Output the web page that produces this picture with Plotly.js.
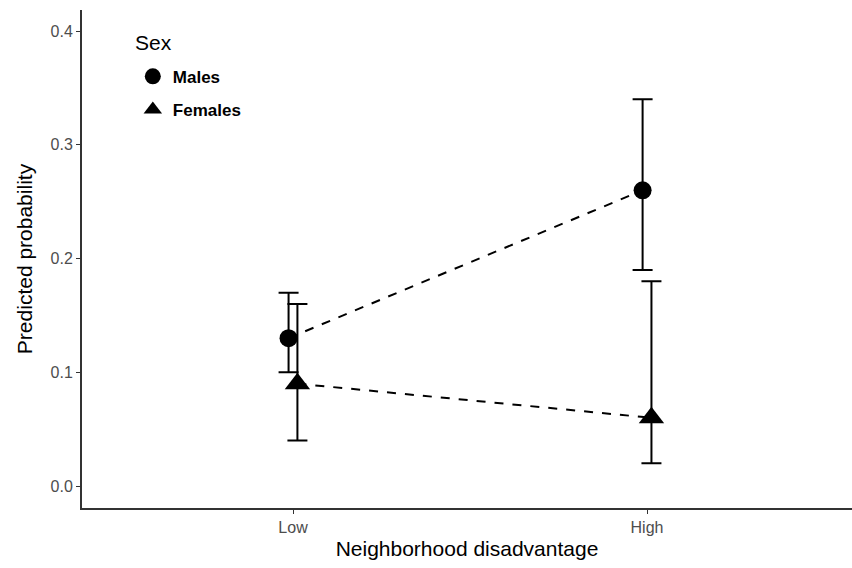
<!DOCTYPE html>
<html>
<head>
<meta charset="utf-8">
<script src="https://cdn.plot.ly/plotly-3.0.1.min.js"></script>
<style>html,body{margin:0;padding:0;background:#fff;}#chart{width:852px;height:568px;}</style>
</head>
<body>
<div id="chart"></div>
<script>
var categories = ["Low", "High"];
var categoryPos = [1, 2];
var dodge = 0.0125;
var malesProb = [0.13, 0.26];
var malesLower = [0.10, 0.19];
var malesUpper = [0.17, 0.34];
var femalesProb = [0.09, 0.06];
var femalesLower = [0.04, 0.02];
var femalesUpper = [0.16, 0.18];

function lineTrace(pos, prob, off) {
  return {
    type: 'scatter', mode: 'lines', showlegend: false, hoverinfo: 'skip',
    x: pos.map(function (p) { return p + off; }),
    y: prob,
    line: { color: '#000', width: 2, dash: 'dash' }
  };
}
function pointTrace(name, pos, prob, lo, hi, symbol, size, off, group) {
  return {
    type: 'scatter', mode: 'markers', name: name, legendgroup: group,
    x: pos.map(function (p) { return p + off; }),
    y: prob,
    marker: { color: '#000', symbol: symbol, size: size },
    error_y: {
      type: 'data', symmetric: false,
      array: hi.map(function (h, i) { return h - prob[i]; }),
      arrayminus: lo.map(function (l, i) { return prob[i] - l; }),
      color: '#000', thickness: 2, width: 10
    }
  };
}

var traces = [
  lineTrace(categoryPos, malesProb, -dodge),
  lineTrace(categoryPos, femalesProb, dodge),
  pointTrace('Males', categoryPos, malesProb, malesLower, malesUpper, 'circle', 18, -dodge, 'm'),
  pointTrace('Females', categoryPos, femalesProb, femalesLower, femalesUpper, 'triangle-up', 22, dodge, 'f')
];

var layout = {
  width: 852, height: 568,
  margin: { l: 82, r: 0, t: 10, b: 60 },
  paper_bgcolor: '#fff', plot_bgcolor: '#fff',
  font: { family: 'Liberation Sans, Arial, sans-serif', color: '#000' },
  showlegend: true,
  legend: {
    x: 0.066, y: 0.902, xanchor: 'left', yanchor: 'top',
    bgcolor: 'rgba(0,0,0,0)',
    font: { size: 17, color: '#000', weight: 'bold' },
    tracegroupgap: 8, itemsizing: 'trace'
  },
  annotations: [{
    text: 'Sex', xref: 'paper', yref: 'paper',
    x: 0.066, y: 1 - (42 - 10) / 498, xanchor: 'left', yanchor: 'middle',
    showarrow: false, font: { size: 21, color: '#000' }
  }],
  xaxis: {
    range: [0.404, 2.579],
    tickvals: categoryPos, ticktext: categories,
    showgrid: false, zeroline: false,
    showline: true, linecolor: '#333', linewidth: 2,
    ticks: 'outside', ticklen: 4, tickcolor: '#333', tickwidth: 1,
    tickfont: { size: 16, color: '#4d4d4d' },
    title: { text: 'Neighborhood disadvantage', font: { size: 21, color: '#000' }, standoff: 6 }
  },
  yaxis: {
    range: [-0.0193, 0.4185],
    tickvals: [0, 0.1, 0.2, 0.3, 0.4],
    ticktext: ['0.0', '0.1', '0.2', '0.3', '0.4'],
    showgrid: false, zeroline: false,
    showline: true, linecolor: '#333', linewidth: 2,
    ticks: 'outside', ticklen: 4, tickcolor: '#333', tickwidth: 1,
    tickfont: { size: 16, color: '#4d4d4d' },
    title: { text: 'Predicted probability', font: { size: 21, color: '#000' }, standoff: 12 }
  }
};

Plotly.newPlot('chart', traces, layout, { displayModeBar: false, staticPlot: true });
</script>
</body>
</html>
